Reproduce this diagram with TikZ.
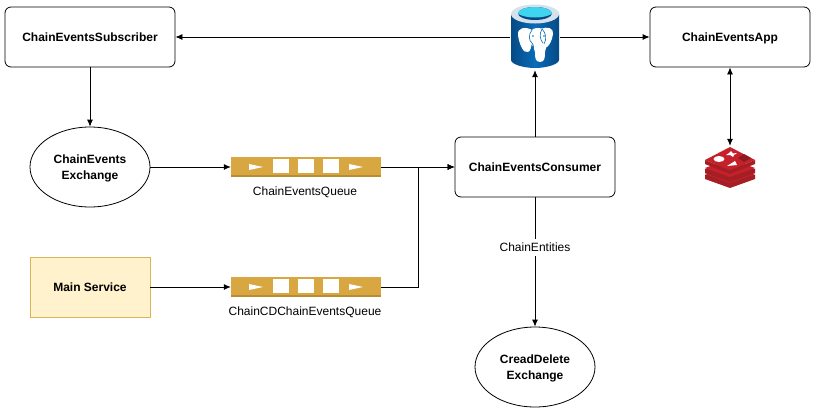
\documentclass[tikz,border=0pt]{standalone}
\usepackage{fontspec}
\setmainfont{Liberation Sans}
\usetikzlibrary{arrows.meta,shapes.geometric}
\definecolor{qgold}{HTML}{D9A741}
\definecolor{qdark}{HTML}{B98D32}
\definecolor{svcfill}{HTML}{FFF2CC}
\definecolor{svcline}{HTML}{D6B656}
\definecolor{pgblue}{HTML}{0A6CB8}
\definecolor{pgdark}{HTML}{054A85}
\definecolor{pgrim}{HTML}{D5E2EA}
\definecolor{pgcyan}{HTML}{3FD4F0}
\definecolor{rd}{HTML}{C6202B}
\definecolor{rdd}{HTML}{8E1A20}
\definecolor{rdm}{HTML}{A41E24}
\tikzset{
  x=1pt,y=-1pt,
  lbl/.style={font=\fontsize{12}{14}\selectfont},
  boldlbl/.style={font=\fontsize{12}{15.5}\selectfont\bfseries,align=center,text depth=0pt},
  box/.style={draw=black,fill=white,rounded corners=6pt,minimum width=170pt,minimum height=60pt,line width=.8pt,boldlbl},
  boxm/.style={box,minimum width=160pt},
  oval/.style={draw=black,fill=white,ellipse,minimum width=120pt,minimum height=80pt,line width=.8pt,inner sep=0pt,boldlbl},
  svc/.style={draw=svcline,fill=svcfill,minimum width=120pt,minimum height=60pt,line width=.7pt,boldlbl},
  queuebox/.style={fill=qgold,minimum width=150pt,minimum height=20pt,inner sep=0pt},
  icon/.style={minimum width=50pt,inner sep=0pt},
  conn/.style={draw=black,line width=.8pt,-{Latex[length=7pt,width=6pt]}},
  connboth/.style={draw=black,line width=.8pt,{Latex[length=7pt,width=6pt]}-{Latex[length=7pt,width=6pt]}},
}
\begin{document}
\begin{tikzpicture}
\useasboundingbox (0,0) rectangle (816,413);
\fill[white] (0,0) rectangle (816,413);
\node[box] (sub) at (90,37) {ChainEventsSubscriber};
\node[boxm] (app) at (730,37) {ChainEventsApp};
\node[boxm] (cons) at (535,167) {ChainEventsConsumer};
\node[oval] (ex1) at (90,167) {ChainEvents\\Exchange};
\node[oval] (ex2) at (535,367) {CreadDelete\\Exchange};
\node[svc] (main) at (90,287) {Main Service};
\node[queuebox] (q1) at (306,167) {};
\node[queuebox] (q2) at (306,287) {};
\node[lbl] (q1l) at (305,192.7) {ChainEventsQueue};
\node[lbl] (q2l) at (305,312.7) {ChainCDChainEventsQueue};
\node[icon,minimum height=66pt] (pg) at (535,37) {};
\node[icon,minimum height=42pt] (redis) at (730,167) {};
% queue details
\foreach \q in {q1,q2}{
  \begin{scope}[shift={(\q.center)}]
    \fill[qdark] (-75,8) rectangle (75,10);
    \fill[white] (-57,-3) -- (-43,0) -- (-57,3) -- cycle;
    \fill[white] (43,-3) -- (57,0) -- (43,3) -- cycle;
    \fill[white] (-33,-8) rectangle (-17,6);
    \fill[white] (-8,-8) rectangle (8,6);
    \fill[white] (17,-8) rectangle (33,6);
  \end{scope}
}
% postgres icon
\begin{scope}[shift={(pg.center)}]
  \shade[left color=pgdark,right color=pgdark,middle color=pgblue] (-24,-23) -- (-24,23) .. controls (-24,27) and (-12,31) .. (0,31) .. controls (12,31) and (24,27) .. (24,23) -- (24,-23) -- cycle;
  \fill[pgrim] (0,-23) ellipse[x radius=24,y radius=9.5];
  \fill[pgdark] (0,-23.5) ellipse[x radius=17,y radius=6.5];
  \begin{scope}
    \clip (0,-23.5) ellipse[x radius=17,y radius=6.5];
    \fill[pgcyan] (0,-26.5) ellipse[x radius=19,y radius=7];
  \end{scope}
  % elephant
  \fill[white] (-3,-7) .. controls (-10,-11) and (-18,-9) .. (-17,-2) .. controls (-16,6) and (-12,17) .. (-7,15) .. controls (-4,14) and (-4,9) .. (-3,6) -- cycle;
  \fill[white] (6,-8) .. controls (12,-11) and (19,-9) .. (18,-3) .. controls (17,4) and (14,10) .. (10,11) -- (8,4) -- cycle;
  \fill[white] (3,-9) .. controls (-5,-9) and (-7,-3) .. (-5,3) .. controls (-4,7) and (-1,10) .. (0,15) .. controls (0,20) and (0,25) .. (5,25) .. controls (10,25) and (10,20) .. (10,15) .. controls (11,9) and (14,4) .. (14,-2) .. controls (14,-6) and (9,-9) .. (3,-9) -- cycle;
  \draw[pgblue,line width=.6pt] (-3,-7) .. controls (-7,-2) and (-6,4) .. (-3,6) .. controls (-1,9) and (-1,11) .. (-2,14);
  \draw[pgblue,line width=.6pt] (7,-8) .. controls (4,-3) and (5,3) .. (8,6);
  \draw[pgblue,line width=.6pt] (7,-8) .. controls (11,-4) and (12,2) .. (9,7);
  \fill[pgblue] (-2,-1) circle[radius=.8];
  \fill[pgblue] (9,-1) circle[radius=.8];
\end{scope}
% redis icon
\begin{scope}[shift={(redis.center)}]
  \foreach \dy/\c in {12/rdm,6/rdm}{
    \fill[\c] (-25,\dy) -- (0,{\dy+9}) -- (25,\dy) -- (25,{\dy-4}) -- (0,{\dy-13}) -- (-25,{\dy-4}) -- cycle;
    \fill[rd] (-25,{\dy-5}) -- (0,{\dy-14}) -- (25,{\dy-5}) -- (0,{\dy+4}) -- cycle;
  }
  \fill[rdm] (-25,-7) -- (-25,-3) -- (0,7) -- (25,-3) -- (25,-7) -- (0,3) -- cycle;
  \fill[rd] (-25,-7) -- (0,-20) -- (25,-7) -- (0,3) -- cycle;
  \fill[white] (-11,-8) ellipse[x radius=5.5,y radius=3];
  \fill[white] (-3,-1) -- (7,-2) -- (5,-6) -- cycle;
  \fill[white] (1,-16) -- (3,-13.5) -- (7,-14) -- (4,-12) -- (3,-10) -- (0,-12) -- (-4,-12) -- (-1,-14) -- cycle;
  \fill[rdd] (8,-9) -- (14,-13) -- (21,-9) -- (14,-5) -- cycle;
\end{scope}
% connectors
\draw[conn] (pg.west |- sub.east) -- (sub.east);
\draw[conn] (pg.east |- app.west) -- (app.west);
\draw[conn] (sub.south) -- (ex1.north);
\draw[conn] (ex1.east) -- (q1.west);
\draw[conn] (main.east) -- (q2.west);
\draw[conn] (q1.east) -- (cons.west);
\draw[conn] (q2.east) -- (418,287) -- (418,167) -- (cons.west);
\draw[conn] (cons.north) -- (pg.south);
\draw[connboth] (app.south) -- (redis.north);
\draw[conn] (cons.south) -- node[pos=.385,fill=white,lbl,inner xsep=2pt,inner ysep=4pt] (ent) {ChainEntities} (ex2.north);
\end{tikzpicture}
\end{document}
